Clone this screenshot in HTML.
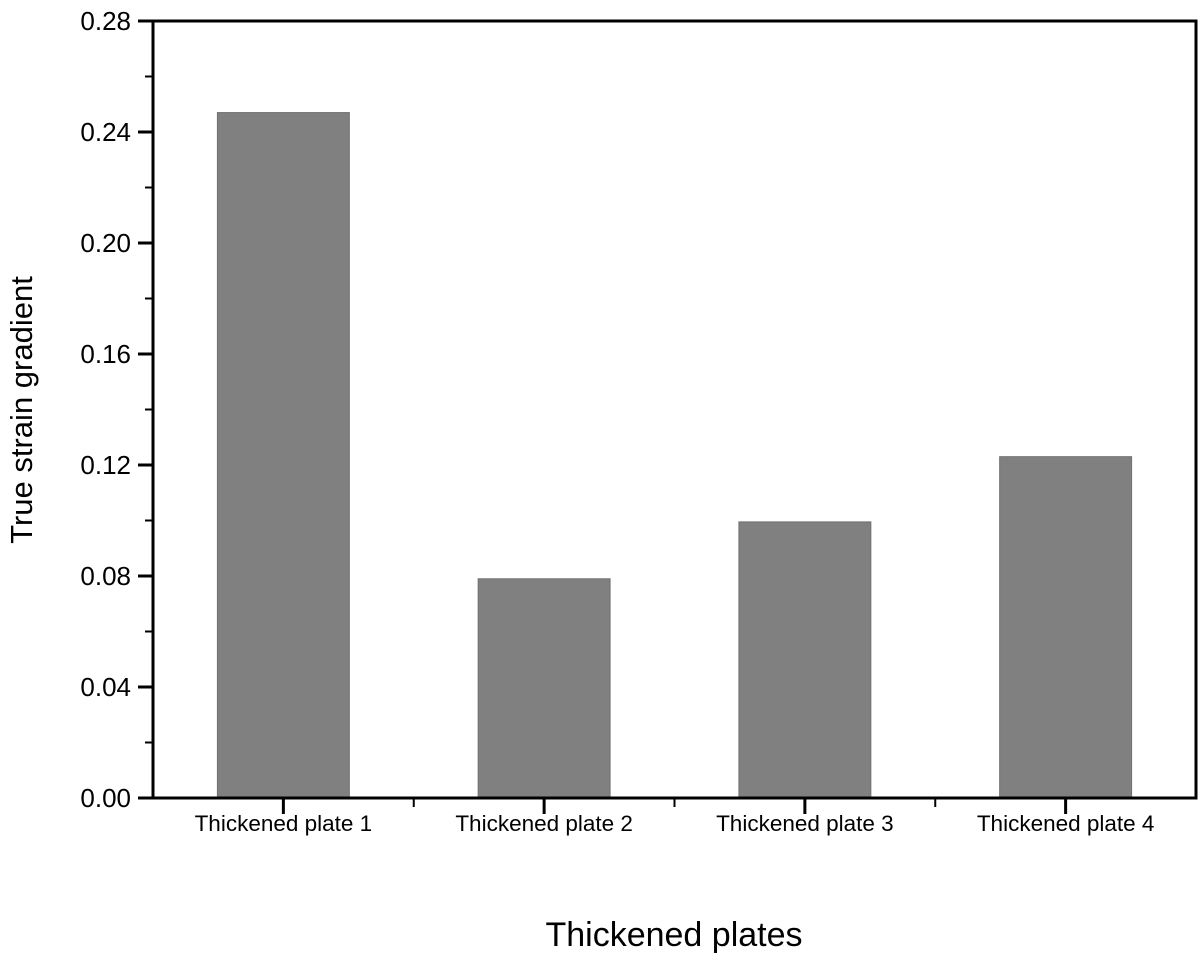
<!DOCTYPE html>
<html><head><meta charset="utf-8"><style>
html,body{margin:0;padding:0;background:#fff}
svg{display:block;font-family:"Liberation Sans",Arial,sans-serif}
</style></head><body>
<svg id="chart" width="1200" height="956"></svg>
<script>
const categories=["Thickened plate 1","Thickened plate 2","Thickened plate 3","Thickened plate 4"];
const values=[0.247,0.079,0.0995,0.123];
const yTicks=[0,0.04,0.08,0.12,0.16,0.2,0.24,0.28];
const yTickLabels=["0.00","0.04","0.08","0.12","0.16","0.20","0.24","0.28"];
const yMinor=[0.02,0.06,0.1,0.14,0.18,0.22,0.26];
const NS="http://www.w3.org/2000/svg";
const svg=document.getElementById('chart');
const L=153,R=1196,T=21,B=798,yMax=0.28;
const y=v=>B-(v/yMax)*(B-T);
const step=(R-L)/categories.length;
const xc=i=>L+step*(i+0.5);
function el(tag,attrs,parent){const e=document.createElementNS(NS,tag);for(const k in attrs)e.setAttribute(k,attrs[k]);(parent||svg).appendChild(e);return e;}
// bars
values.forEach((v,i)=>{
 const r=el('rect',{x:xc(i)-step*0.253,y:y(v),width:step*0.506,height:B-y(v),fill:'#808080',stroke:'#707070','stroke-width':1});
 
 
});
// frame
const f=el('path',{d:`M${L},${B}L${L},${T}L${R},${T}L${R},${B}Z`,fill:'none',stroke:'#000','stroke-width':3});


// y ticks
yTicks.forEach((v,i)=>{
 el('line',{x1:L-15,x2:L,y1:y(v),y2:y(v),stroke:'#000','stroke-width':3});
 const t=el('text',{x:L-22,y:y(v)+9,'text-anchor':'end','font-size':26,fill:'#000'});
 t.textContent=yTickLabels[i];
 
 
});
yMinor.forEach(v=>el('line',{x1:L-8,x2:L,y1:y(v),y2:y(v),stroke:'#000','stroke-width':2}));
// x ticks
categories.forEach((c,i)=>{
 el('line',{x1:xc(i),x2:xc(i),y1:B,y2:B+16,stroke:'#000','stroke-width':3});
 const t=el('text',{x:xc(i),y:831,'text-anchor':'middle','font-size':22.5,fill:'#000'});
 t.textContent=c;
 
 
});
for(let i=1;i<categories.length;i++)el('line',{x1:L+step*i,x2:L+step*i,y1:B,y2:B+9,stroke:'#000','stroke-width':2});
// titles
const yt=el('text',{x:0,y:0,transform:'translate(32,410) rotate(-90)','text-anchor':'middle','font-size':31,fill:'#000'});
yt.textContent='True strain gradient';


const xt=el('text',{x:674,y:946,'text-anchor':'middle','font-size':34,fill:'#000','xml:space':'preserve'});
xt.textContent='Thickened  plates';


</script>
</body></html>
